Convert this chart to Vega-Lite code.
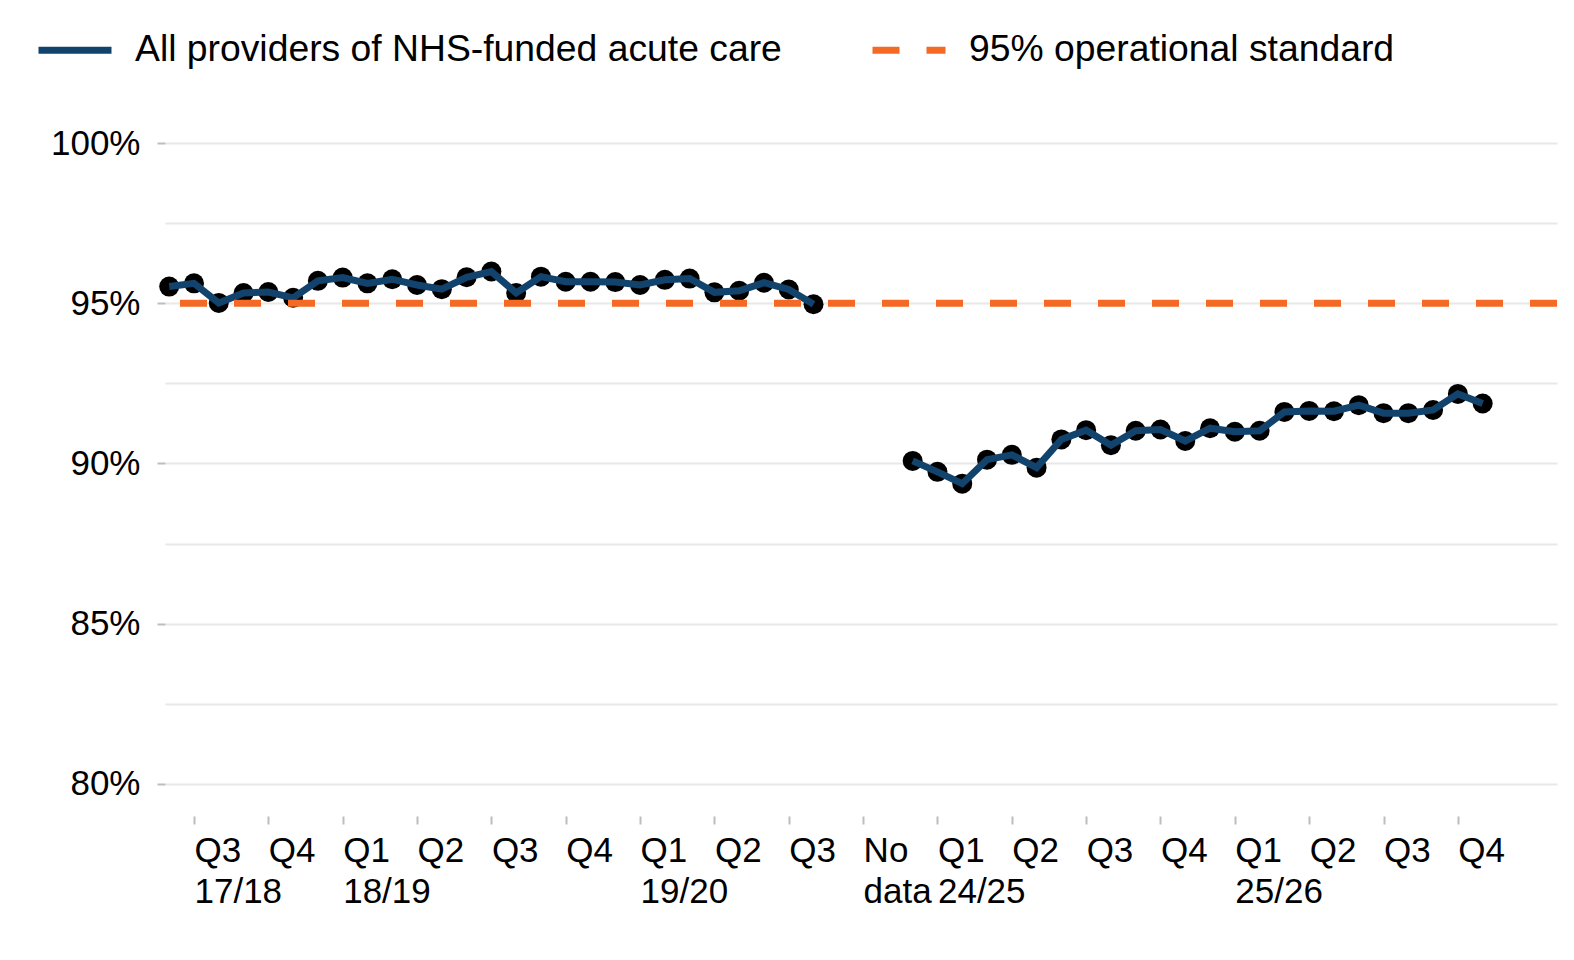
{
  "$schema": "https://vega.github.io/schema/vega-lite/v6.json",
  "autosize": {"type": "none"},
  "width": 1392,
  "height": 673,
  "padding": {"left": 165, "top": 143, "right": 17, "bottom": 144},
  "background": "white",
  "data": {
    "values": [
      {"t": 0, "pct": 95.52, "seg": "a"},
      {"t": 1, "pct": 95.62, "seg": "a"},
      {"t": 2, "pct": 95.01, "seg": "a"},
      {"t": 3, "pct": 95.32, "seg": "a"},
      {"t": 4, "pct": 95.35, "seg": "a"},
      {"t": 5, "pct": 95.17, "seg": "a"},
      {"t": 6, "pct": 95.70, "seg": "a"},
      {"t": 7, "pct": 95.80, "seg": "a"},
      {"t": 8, "pct": 95.62, "seg": "a"},
      {"t": 9, "pct": 95.75, "seg": "a"},
      {"t": 10, "pct": 95.57, "seg": "a"},
      {"t": 11, "pct": 95.44, "seg": "a"},
      {"t": 12, "pct": 95.81, "seg": "a"},
      {"t": 13, "pct": 95.99, "seg": "a"},
      {"t": 14, "pct": 95.32, "seg": "a"},
      {"t": 15, "pct": 95.83, "seg": "a"},
      {"t": 16, "pct": 95.67, "seg": "a"},
      {"t": 17, "pct": 95.67, "seg": "a"},
      {"t": 18, "pct": 95.66, "seg": "a"},
      {"t": 19, "pct": 95.57, "seg": "a"},
      {"t": 20, "pct": 95.73, "seg": "a"},
      {"t": 21, "pct": 95.77, "seg": "a"},
      {"t": 22, "pct": 95.34, "seg": "a"},
      {"t": 23, "pct": 95.39, "seg": "a"},
      {"t": 24, "pct": 95.64, "seg": "a"},
      {"t": 25, "pct": 95.43, "seg": "a"},
      {"t": 26, "pct": 94.97, "seg": "a"},
      {"t": 30, "pct": 90.08, "seg": "b"},
      {"t": 31, "pct": 89.74, "seg": "b"},
      {"t": 32, "pct": 89.37, "seg": "b"},
      {"t": 33, "pct": 90.12, "seg": "b"},
      {"t": 34, "pct": 90.27, "seg": "b"},
      {"t": 35, "pct": 89.87, "seg": "b"},
      {"t": 36, "pct": 90.75, "seg": "b"},
      {"t": 37, "pct": 91.04, "seg": "b"},
      {"t": 38, "pct": 90.57, "seg": "b"},
      {"t": 39, "pct": 91.02, "seg": "b"},
      {"t": 40, "pct": 91.06, "seg": "b"},
      {"t": 41, "pct": 90.70, "seg": "b"},
      {"t": 42, "pct": 91.10, "seg": "b"},
      {"t": 43, "pct": 90.99, "seg": "b"},
      {"t": 44, "pct": 91.02, "seg": "b"},
      {"t": 45, "pct": 91.61, "seg": "b"},
      {"t": 46, "pct": 91.64, "seg": "b"},
      {"t": 47, "pct": 91.63, "seg": "b"},
      {"t": 48, "pct": 91.82, "seg": "b"},
      {"t": 49, "pct": 91.57, "seg": "b"},
      {"t": 50, "pct": 91.57, "seg": "b"},
      {"t": 51, "pct": 91.67, "seg": "b"},
      {"t": 52, "pct": 92.17, "seg": "b"},
      {"t": 53, "pct": 91.87, "seg": "b"}
    ]
  },
  "encoding": {
    "x": {
      "field": "t",
      "type": "quantitative",
      "scale": {"domain": [-0.17, 56.0], "nice": false, "zero": false},
      "axis": {
        "title": null,
        "values": [1, 4, 7, 10, 13, 16, 19, 22, 25, 28, 31, 34, 37, 40, 43, 46, 49, 52],
        "labelExpr": "[['Q3','17/18'],'Q4',['Q1','18/19'],'Q2','Q3','Q4',['Q1','19/20'],'Q2','Q3',['No','data'],['Q1','24/25'],'Q2','Q3','Q4',['Q1','25/26'],'Q2','Q3','Q4'][round((datum.value - 1) / 3)]",
        "grid": false,
        "domain": false,
        "tickColor": "#bdbdbd",
        "tickSize": 8,
        "tickWidth": 2,
        "labelAlign": "left",
        "labelBaseline": "top",
        "labelPadding": 9,
        "labelFontSize": 35,
        "labelLineHeight": 41,
        "labelColor": "#000000",
        "labelFlush": false,
        "labelOverlap": false
      }
    },
    "y": {
      "field": "pct",
      "type": "quantitative",
      "scale": {"domain": [79, 100], "nice": false, "zero": false},
      "axis": {
        "title": null,
        "values": [80, 82.5, 85, 87.5, 90, 92.5, 95, 97.5, 100],
        "labelExpr": "datum.value % 5 === 0 ? datum.value + '%' : ''",
        "domain": false,
        "gridColor": "#e8e8e8",
        "gridWidth": 2,
        "tickColor": {"condition": {"test": "datum.value % 5 !== 0", "value": "transparent"}, "value": "#bdbdbd"},
        "tickSize": 8,
        "tickWidth": 2,
        "labelPadding": 17,
        "labelFontSize": 35,
        "labelColor": "#000000"
      }
    }
  },
  "layer": [
    {
      "mark": {"type": "circle", "size": 400, "color": "#000000", "opacity": 1}
    },
    {
      "mark": {"type": "line", "strokeWidth": 7},
      "encoding": {
        "detail": {"field": "seg"},
        "color": {
          "datum": "All providers of NHS-funded acute care",
          "scale": {
            "domain": ["All providers of NHS-funded acute care", "95% operational standard"],
            "range": ["#12436D", "#F46A25"]
          },
          "legend": {
            "title": null,
            "orient": "none",
            "legendX": -130,
            "legendY": -133,
            "direction": "horizontal",
            "padding": 0,
            "symbolType": "stroke",
            "symbolSize": 5329,
            "symbolStrokeWidth": 7,
            "labelOffset": 20,
            "columnPadding": 76,
            "labelFontSize": 37.3,
            "labelColor": "#000000",
            "labelLimit": 1000,
            "encode": {
              "symbols": {
                "update": {
                  "strokeDash": {"signal": "datum.value === '95% operational standard' ? [27, 27] : [1, 0]"}
                }
              }
            }
          }
        }
      }
    },
    {
      "data": {"values": [{"standard": 95}]},
      "mark": {"type": "rule", "strokeWidth": 7, "strokeDash": [27, 27]},
      "encoding": {
        "x": null,
        "y": {"field": "standard", "type": "quantitative"},
        "color": {"datum": "95% operational standard"}
      }
    }
  ],
  "config": {
    "font": "Liberation Sans",
    "view": {"stroke": null}
  }
}
